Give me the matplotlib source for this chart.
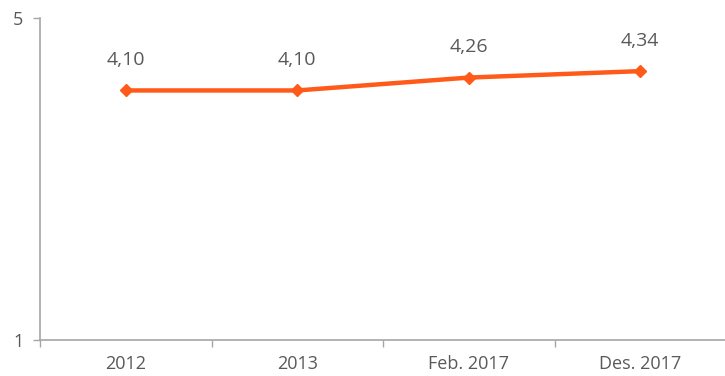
import matplotlib
matplotlib.use('Agg')
from matplotlib import pyplot as plt

categories = ['2012', '2013', 'Feb. 2017', 'Des. 2017']
values = [4.10, 4.10, 4.26, 4.34]
value_labels = ['4,10', '4,10', '4,26', '4,34']

plt.rcParams['font.family'] = ['Open Sans', 'DejaVu Sans']

fig = plt.figure(figsize=(7.25, 3.76), dpi=100)
ax = fig.add_axes([40 / 725, 36 / 376, 686 / 725, 322 / 376])

x = list(range(len(categories)))
ax.plot(x, values, color='#FF5A1A', linewidth=3.2, marker='D', markersize=6.5,
        solid_capstyle='round')

for xi, v, lab in zip(x, values, value_labels):
    ax.annotate(lab, (xi, v), xytext=(0, 22), textcoords='offset points',
                ha='center', va='center', fontsize=14, color='#595959')

ax.set_xlim(-0.5, len(categories) - 0.5)
ax.set_ylim(1, 5)
ax.set_yticks([1, 5])
ax.set_yticklabels(['1', '5'])
ax.set_xticks(x)
ax.set_xticklabels(categories)
ax.set_xticks([i - 0.5 for i in range(len(categories) + 1)], minor=True)

ax.tick_params(axis='x', which='major', length=0, pad=11, labelsize=13, colors='#595959')
ax.tick_params(axis='x', which='minor', length=5, width=1, color='#A6A6A6', direction='out')
ax.tick_params(axis='y', length=5, width=1, color='#A6A6A6', labelsize=13,
               labelcolor='#595959', pad=7)

for side in ['top', 'right']:
    ax.spines[side].set_visible(False)
for side in ['left', 'bottom']:
    ax.spines[side].set_color('#A6A6A6')
    ax.spines[side].set_linewidth(1.2)

fig.savefig('out.png', dpi=100)
